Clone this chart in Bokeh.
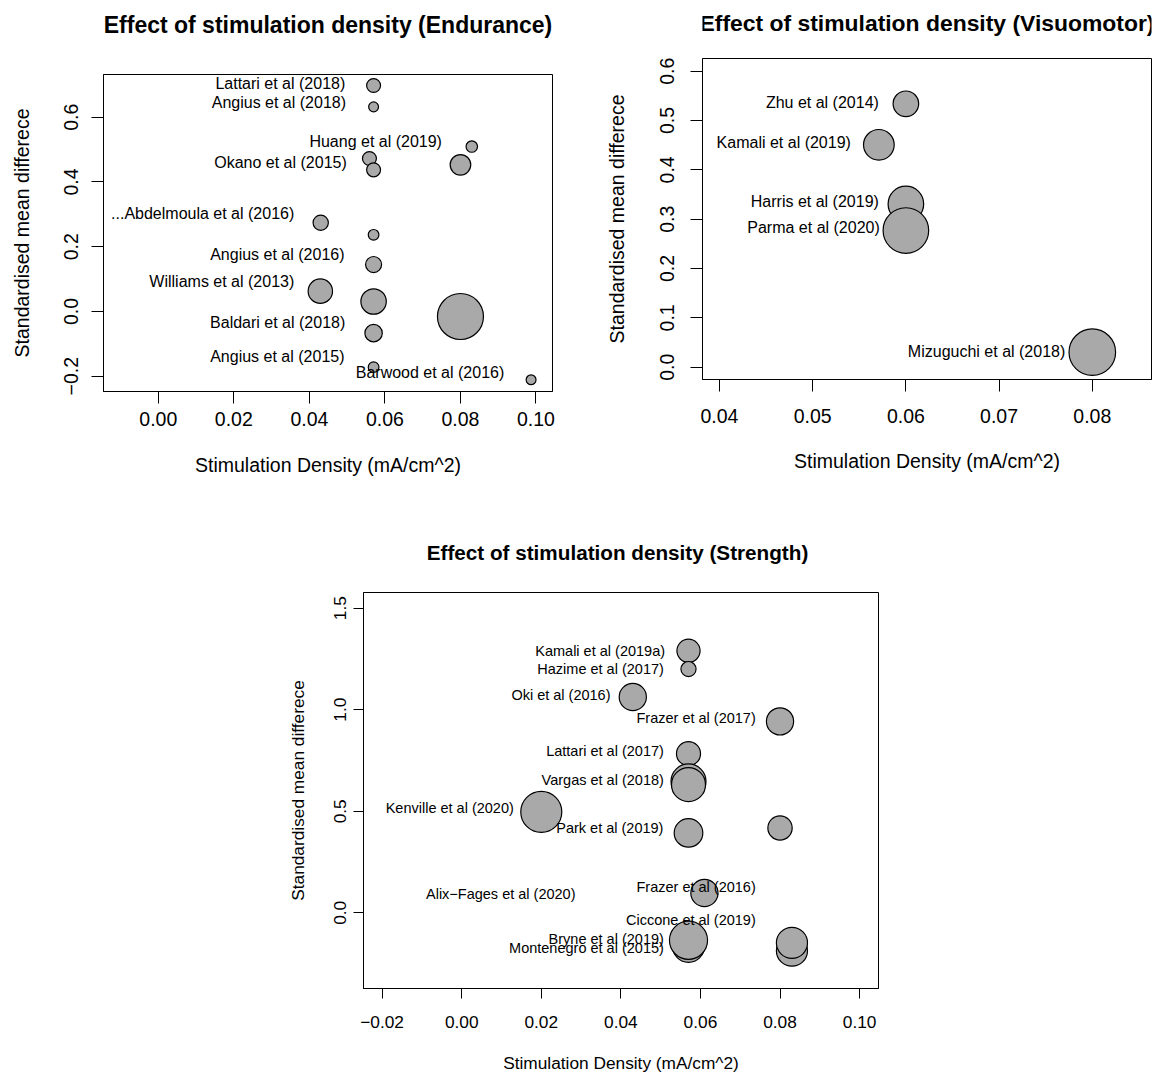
from bokeh.plotting import figure
from bokeh.models import FixedTicker, ColumnDataSource, PrintfTickFormatter, Range1d, Spacer
from bokeh.layouts import row, column
from bokeh.core.properties import value
from bokeh.embed import file_html
from bokeh.resources import INLINE

FONT = "Liberation Sans"

# ---------------- Panel 1: Endurance ----------------
end_x = [0.057, 0.057, 0.083, 0.0559, 0.057, 0.080, 0.043, 0.057, 0.057, 0.0429, 0.057, 0.080, 0.057, 0.057, 0.0987]
end_y = [0.698, 0.632, 0.5095, 0.4725, 0.4375, 0.453, 0.274, 0.2367, 0.145, 0.0627, 0.0307, -0.0156, -0.067, -0.172, -0.211]
end_w = [3.4, 1.7, 2.3, 3.4, 3.4, 7.4, 4.1, 2.0, 4.5, 10.4, 11.3, 37.0, 5.3, 2.0, 1.7]
end_labels = ["Lattari et al (2018)", "Angius et al (2018)", "Huang et al (2019)", "Okano et al (2015)",
              "...Abdelmoula et al (2016)", "Angius et al (2016)", "Williams et al (2013)",
              "Baldari et al (2018)", "Angius et al (2015)", "Barwood et al (2016)"]
end_lab_x = [0.0495, 0.0497, 0.0751, 0.0499, 0.0360, 0.0493, 0.0360, 0.0495, 0.0493, 0.0916]
end_lab_y = [0.705, 0.646, 0.526, 0.459, 0.3035, 0.176, 0.093, -0.033, -0.139, -0.188]
end_xticks = [0.0, 0.02, 0.04, 0.06, 0.08, 0.10]
end_xtick_labels = ["0.00", "0.02", "0.04", "0.06", "0.08", "0.10"]
end_yticks = [-0.2, 0.0, 0.2, 0.4, 0.6]
end_ytick_labels = ["\u22120.2", "0.0", "0.2", "0.4", "0.6"]

# ---------------- Panel 2: Visuomotor ----------------
vis_x = [0.060, 0.0571, 0.060, 0.060, 0.080]
vis_y = [0.534, 0.4508, 0.331, 0.277, 0.0304]
vis_w = [9.2, 13.2, 17.8, 29.2, 30.5]
vis_labels = ["Zhu et al (2014)", "Kamali et al (2019)", "Harris et al (2019)", "Parma et al (2020)", "Mizuguchi et al (2018)"]
vis_lab_x = [0.0571, 0.0541, 0.0571, 0.0572, 0.0771]
vis_lab_y = [0.537, 0.455, 0.3365, 0.284, 0.0324]
vis_xticks = [0.04, 0.05, 0.06, 0.07, 0.08]
vis_xtick_labels = ["0.04", "0.05", "0.06", "0.07", "0.08"]
vis_yticks = [0.0, 0.1, 0.2, 0.3, 0.4, 0.5, 0.6]
vis_ytick_labels = ["0.0", "0.1", "0.2", "0.3", "0.4", "0.5", "0.6"]

# ---------------- Panel 3: Strength ----------------
str_x = [0.057, 0.057, 0.043, 0.080, 0.057, 0.057, 0.057, 0.020, 0.057, 0.080, 0.061, 0.057, 0.057, 0.083, 0.083]
str_y = [1.290, 1.200, 1.0625, 0.9425, 0.7836, 0.647, 0.631, 0.4968, 0.3935, 0.418, 0.098, -0.165, -0.135, -0.186, -0.1476]
str_w = [4.0, 1.7, 5.5, 5.5, 4.3, 9.1, 8.6, 12.5, 6.1, 4.4, 5.5, 7.6, 10.8, 7.2, 7.2]
str_labels = ["Kamali et al (2019a)", "Hazime et al (2017)", "Oki et al (2016)", "Frazer et al (2017)",
              "Lattari et al (2017)", "Vargas et al (2018)", "Kenville et al (2020)", "Park et al (2019)",
              "Frazer et al (2016)", "Alix\u2212Fages et al (2020)", "Ciccone et al (2019)",
              "Bryne et al (2019)", "Montenegro et al (2015)"]
str_lab_x = [0.0511, 0.0508, 0.0374, 0.0739, 0.0508, 0.0508, 0.0131, 0.0507, 0.0739, 0.0286, 0.0739, 0.0508, 0.0508]
str_lab_y = [1.290, 1.200, 1.074, 0.959, 0.798, 0.656, 0.5165, 0.418, 0.126, 0.095, -0.033, -0.131, -0.175]
str_xticks = [-0.02, 0.0, 0.02, 0.04, 0.06, 0.08, 0.10]
str_xtick_labels = ["\u22120.02", "0.00", "0.02", "0.04", "0.06", "0.08", "0.10"]
str_yticks = [0.0, 0.5, 1.0, 1.5]
str_ytick_labels = ["0.0", "0.5", "1.0", "1.5"]

TITLES = ["Effect of stimulation density (Endurance)",
          "Effect of stimulation density (Visuomotor)",
          "Effect of stimulation density (Strength)"]
XLAB = "Stimulation Density (mA/cm^2)"
YLAB = "Standardised mean differece"


def drop_title(p):
    try:
        p.title_location = None
    except Exception:
        p.title.text_font_size = "0px"
        p.title.standoff = 0


def title_fig(text, width, height, bl, br, cx, mid_from_top, size):
    fw = width - bl - br
    t = figure(width=width, height=height, x_range=Range1d(0, fw), y_range=Range1d(0, height),
               output_backend="svg", toolbar_location=None, x_axis_type=None, y_axis_type=None,
               min_border_left=bl, min_border_right=br, min_border_top=0, min_border_bottom=0)
    drop_title(t)
    t.outline_line_color = None
    t.xgrid.grid_line_color = None
    t.ygrid.grid_line_color = None
    src = ColumnDataSource(dict(x=[cx], y=[height - mid_from_top], t=[text]))
    t.text(x="x", y="y", text="t", source=src, text_align="center", text_baseline="middle",
           text_font=value(FONT), text_font_size=size, text_font_style="bold", text_color="black")
    return t


def style_axis(ax, ticks, labels, fmt, font_size, tick_out, standoff, title, title_size, title_standoff, vertical=False):
    ax.ticker = FixedTicker(ticks=ticks)
    ax.formatter = PrintfTickFormatter(format=fmt)
    ax.major_label_overrides = dict(zip(ticks, labels))
    ax.major_tick_out = tick_out
    ax.major_tick_in = 0
    ax.minor_tick_out = 0
    ax.minor_tick_in = 0
    ax.axis_line_color = "black"
    ax.major_tick_line_color = "black"
    ax.major_label_text_font = FONT
    ax.major_label_text_font_size = font_size
    ax.major_label_text_color = "black"
    ax.major_label_standoff = int(round(standoff))
    ax.axis_label = title
    ax.axis_label_text_font = FONT
    ax.axis_label_text_font_size = title_size
    ax.axis_label_text_font_style = "normal"
    ax.axis_label_text_color = "black"
    ax.axis_label_standoff = int(round(title_standoff))
    if vertical:
        ax.major_label_orientation = "parallel"


def panel(xs, ys, ws, max_diam, labs, lx, ly, lab_size,
          xr, yr, xt, xtl, yt, ytl, xfmt, yfmt,
          width, height, bl, br, bt, bb,
          tick_size, axis_title_size, tick_out,
          xstand, xtstand, ystand, ytstand):
    p = figure(width=width, height=height, x_range=Range1d(*xr), y_range=Range1d(*yr),
               output_backend="svg", toolbar_location=None,
               min_border_left=bl, min_border_right=br, min_border_top=bt, min_border_bottom=bb)
    drop_title(p)
    p.background_fill_color = "white"
    p.border_fill_color = "white"
    p.outline_line_color = "black"
    p.outline_line_width = 1
    p.xgrid.grid_line_color = None
    p.ygrid.grid_line_color = None
    style_axis(p.xaxis[0], xt, xtl, xfmt, tick_size, tick_out, xstand, XLAB, axis_title_size, xtstand)
    style_axis(p.yaxis[0], yt, ytl, yfmt, tick_size, tick_out, ystand, YLAB, axis_title_size, ytstand, vertical=True)

    wmax = max(ws)
    sizes = [max_diam * (w / wmax) ** 0.5 for w in ws]
    src = ColumnDataSource(dict(x=xs, y=ys, s=sizes))
    p.scatter(x="x", y="y", size="s", source=src, marker="circle",
              fill_color="#A9A9A9", line_color="black", line_width=1.2)
    lsrc = ColumnDataSource(dict(x=lx, y=ly, t=labs))
    p.text(x="x", y="y", text="t", source=lsrc, text_align="right", text_baseline="middle",
           text_font=value(FONT), text_font_size=lab_size, text_color="black")
    return p


p1 = panel(end_x, end_y, end_w, 46,
           end_labels, end_lab_x, end_lab_y, "16px",
           (-0.01451, 0.10437), (-0.2473, 0.732),
           end_xticks, end_xtick_labels, end_yticks, end_ytick_labels, "%.2f", "%.1f",
           590, 450, 103, 38, 16, 117,
           "19.5px", "19.5px", 12,
           8, 25, 13, 29)
t1 = title_fig(TITLES[0], 590, 58, 103, 38, 224.5, 24, "23px")

p2 = panel(vis_x, vis_y, vis_w, 46.6,
           vis_labels, vis_lab_x, vis_lab_y, "16px",
           (0.03818, 0.08635), (-0.025, 0.6258),
           vis_xticks, vis_xtick_labels, vis_yticks, vis_ytick_labels, "%.2f", "%.1f",
           570, 454, 112, 9, 16, 117,
           "19.5px", "19.5px", 12,
           17, 24, 16, 30)
t2 = title_fig(TITLES[1], 570, 42, 112, 9, 224.5, 22.5, "22.9px")

p3 = panel(str_x, str_y, str_w, 41,
           str_labels, str_lab_x, str_lab_y, "14.5px",
           (-0.02468, 0.10475), (-0.3724, 1.577),
           str_xticks, str_xtick_labels, str_yticks, str_ytick_labels, "%.2f", "%.1f",
           640, 510, 105, 20, 25, 89,
           "17.3px", "17.3px", 10,
           17, 22, 7, 24)
t3 = title_fig(TITLES[2], 640, 59, 105, 20, 254, 44, "20.7px")

layout = column(
    row(column(t1, p1), column(t2, p2)),
    row(Spacer(width=258, height=569), column(t3, p3)),
)

open("out.html", "w").write(file_html(layout, INLINE))
